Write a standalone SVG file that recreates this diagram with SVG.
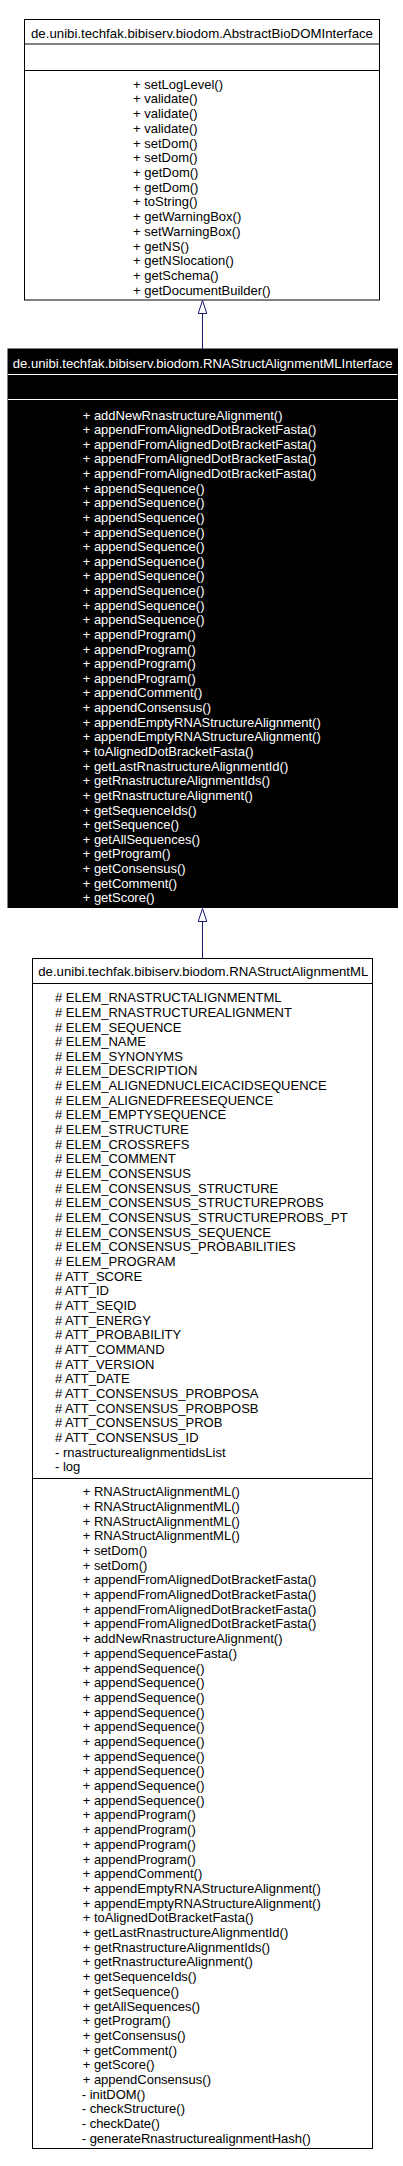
<svg xmlns="http://www.w3.org/2000/svg" width="403" height="2166" viewBox="0 0 403 2166">
<style>
text{font-family:"Liberation Sans",Arial,sans-serif;font-size:13px}
.w{fill:#ffffff}
.k{fill:#000000}
.box{fill:#ffffff;stroke:#000000;stroke-width:1}
.boxd{fill:#000000;stroke:#000000;stroke-width:1}
.sep{stroke:#000000;stroke-width:1}
.sepw{stroke:#ffffff;stroke-width:1}
.edge{stroke:#191970;stroke-width:1;fill:none}
.head{stroke:#191970;stroke-width:1;fill:#ffffff}
</style>
<rect width="403" height="2166" fill="#ffffff"/>
<g id="AbstractBioDOMInterface">
<rect class="box" x="24.5" y="19.5" width="355" height="280.5"/>
<line class="sep" x1="24.5" y1="44" x2="379.5" y2="44"/>
<line class="sep" x1="24.5" y1="70.5" x2="379.5" y2="70.5"/>
<text class="k" x="202" y="37.8" text-anchor="middle" textLength="342" lengthAdjust="spacingAndGlyphs">de.unibi.techfak.bibiserv.biodom.AbstractBioDOMInterface</text>
<text class="k" x="133"><tspan x="133" y="88.7">+ setLogLevel()</tspan><tspan x="133" dy="14.71">+ validate()</tspan><tspan x="133" dy="14.71">+ validate()</tspan><tspan x="133" dy="14.71">+ validate()</tspan><tspan x="133" dy="14.71">+ setDom()</tspan><tspan x="133" dy="14.71">+ setDom()</tspan><tspan x="133" dy="14.71">+ getDom()</tspan><tspan x="133" dy="14.71">+ getDom()</tspan><tspan x="133" dy="14.71">+ toString()</tspan><tspan x="133" dy="14.71">+ getWarningBox()</tspan><tspan x="133" dy="14.71">+ setWarningBox()</tspan><tspan x="133" dy="14.71">+ getNS()</tspan><tspan x="133" dy="14.71">+ getNSlocation()</tspan><tspan x="133" dy="14.71">+ getSchema()</tspan><tspan x="133" dy="14.71">+ getDocumentBuilder()</tspan></text>
</g>
<g id="RNAStructAlignmentMLInterface">
<rect class="boxd" x="8" y="349" width="389.5" height="558.5"/>
<line class="sepw" x1="8" y1="374.5" x2="397.5" y2="374.5"/>
<line class="sepw" x1="8" y1="399.5" x2="397.5" y2="399.5"/>
<text class="w" x="202.7" y="367.8" text-anchor="middle" textLength="380" lengthAdjust="spacingAndGlyphs">de.unibi.techfak.bibiserv.biodom.RNAStructAlignmentMLInterface</text>
<text class="w" x="82.7"><tspan x="82.7" y="419.5">+ addNewRnastructureAlignment()</tspan><tspan x="82.7" dy="14.63">+ appendFromAlignedDotBracketFasta()</tspan><tspan x="82.7" dy="14.63">+ appendFromAlignedDotBracketFasta()</tspan><tspan x="82.7" dy="14.63">+ appendFromAlignedDotBracketFasta()</tspan><tspan x="82.7" dy="14.63">+ appendFromAlignedDotBracketFasta()</tspan><tspan x="82.7" dy="14.63">+ appendSequence()</tspan><tspan x="82.7" dy="14.63">+ appendSequence()</tspan><tspan x="82.7" dy="14.63">+ appendSequence()</tspan><tspan x="82.7" dy="14.63">+ appendSequence()</tspan><tspan x="82.7" dy="14.63">+ appendSequence()</tspan><tspan x="82.7" dy="14.63">+ appendSequence()</tspan><tspan x="82.7" dy="14.63">+ appendSequence()</tspan><tspan x="82.7" dy="14.63">+ appendSequence()</tspan><tspan x="82.7" dy="14.63">+ appendSequence()</tspan><tspan x="82.7" dy="14.63">+ appendSequence()</tspan><tspan x="82.7" dy="14.63">+ appendProgram()</tspan><tspan x="82.7" dy="14.63">+ appendProgram()</tspan><tspan x="82.7" dy="14.63">+ appendProgram()</tspan><tspan x="82.7" dy="14.63">+ appendProgram()</tspan><tspan x="82.7" dy="14.63">+ appendComment()</tspan><tspan x="82.7" dy="14.63">+ appendConsensus()</tspan><tspan x="82.7" dy="14.63">+ appendEmptyRNAStructureAlignment()</tspan><tspan x="82.7" dy="14.63">+ appendEmptyRNAStructureAlignment()</tspan><tspan x="82.7" dy="14.63">+ toAlignedDotBracketFasta()</tspan><tspan x="82.7" dy="14.63">+ getLastRnastructureAlignmentId()</tspan><tspan x="82.7" dy="14.63">+ getRnastructureAlignmentIds()</tspan><tspan x="82.7" dy="14.63">+ getRnastructureAlignment()</tspan><tspan x="82.7" dy="14.63">+ getSequenceIds()</tspan><tspan x="82.7" dy="14.63">+ getSequence()</tspan><tspan x="82.7" dy="14.63">+ getAllSequences()</tspan><tspan x="82.7" dy="14.63">+ getProgram()</tspan><tspan x="82.7" dy="14.63">+ getConsensus()</tspan><tspan x="82.7" dy="14.63">+ getComment()</tspan><tspan x="82.7" dy="14.63">+ getScore()</tspan></text>
</g>
<g id="RNAStructAlignmentML">
<rect class="box" x="32.5" y="958.5" width="340" height="1190"/>
<line class="sep" x1="32.5" y1="983.5" x2="372.5" y2="983.5"/>
<line class="sep" x1="32.5" y1="1478.5" x2="372.5" y2="1478.5"/>
<text class="k" x="203.3" y="976.3" text-anchor="middle" textLength="330" lengthAdjust="spacingAndGlyphs">de.unibi.techfak.bibiserv.biodom.RNAStructAlignmentML</text>
<text class="k" x="55"><tspan x="55" y="1002.2"># ELEM_RNASTRUCTALIGNMENTML</tspan><tspan x="55" dy="14.656"># ELEM_RNASTRUCTUREALIGNMENT</tspan><tspan x="55" dy="14.656"># ELEM_SEQUENCE</tspan><tspan x="55" dy="14.656"># ELEM_NAME</tspan><tspan x="55" dy="14.656"># ELEM_SYNONYMS</tspan><tspan x="55" dy="14.656"># ELEM_DESCRIPTION</tspan><tspan x="55" dy="14.656"># ELEM_ALIGNEDNUCLEICACIDSEQUENCE</tspan><tspan x="55" dy="14.656"># ELEM_ALIGNEDFREESEQUENCE</tspan><tspan x="55" dy="14.656"># ELEM_EMPTYSEQUENCE</tspan><tspan x="55" dy="14.656"># ELEM_STRUCTURE</tspan><tspan x="55" dy="14.656"># ELEM_CROSSREFS</tspan><tspan x="55" dy="14.656"># ELEM_COMMENT</tspan><tspan x="55" dy="14.656"># ELEM_CONSENSUS</tspan><tspan x="55" dy="14.656"># ELEM_CONSENSUS_STRUCTURE</tspan><tspan x="55" dy="14.656"># ELEM_CONSENSUS_STRUCTUREPROBS</tspan><tspan x="55" dy="14.656"># ELEM_CONSENSUS_STRUCTUREPROBS_PT</tspan><tspan x="55" dy="14.656"># ELEM_CONSENSUS_SEQUENCE</tspan><tspan x="55" dy="14.656"># ELEM_CONSENSUS_PROBABILITIES</tspan><tspan x="55" dy="14.656"># ELEM_PROGRAM</tspan><tspan x="55" dy="14.656"># ATT_SCORE</tspan><tspan x="55" dy="14.656"># ATT_ID</tspan><tspan x="55" dy="14.656"># ATT_SEQID</tspan><tspan x="55" dy="14.656"># ATT_ENERGY</tspan><tspan x="55" dy="14.656"># ATT_PROBABILITY</tspan><tspan x="55" dy="14.656"># ATT_COMMAND</tspan><tspan x="55" dy="14.656"># ATT_VERSION</tspan><tspan x="55" dy="14.656"># ATT_DATE</tspan><tspan x="55" dy="14.656"># ATT_CONSENSUS_PROBPOSA</tspan><tspan x="55" dy="14.656"># ATT_CONSENSUS_PROBPOSB</tspan><tspan x="55" dy="14.656"># ATT_CONSENSUS_PROB</tspan><tspan x="55" dy="14.656"># ATT_CONSENSUS_ID</tspan><tspan x="55" dy="14.656">- rnastructurealignmentidsList</tspan><tspan x="55" dy="14.656">- log</tspan></text>
<text class="k" x="82.7"><tspan x="82.7" y="1496.2">+ RNAStructAlignmentML()</tspan><tspan x="82.7" dy="14.695">+ RNAStructAlignmentML()</tspan><tspan x="82.7" dy="14.695">+ RNAStructAlignmentML()</tspan><tspan x="82.7" dy="14.695">+ RNAStructAlignmentML()</tspan><tspan x="82.7" dy="14.695">+ setDom()</tspan><tspan x="82.7" dy="14.695">+ setDom()</tspan><tspan x="82.7" dy="14.695">+ appendFromAlignedDotBracketFasta()</tspan><tspan x="82.7" dy="14.695">+ appendFromAlignedDotBracketFasta()</tspan><tspan x="82.7" dy="14.695">+ appendFromAlignedDotBracketFasta()</tspan><tspan x="82.7" dy="14.695">+ appendFromAlignedDotBracketFasta()</tspan><tspan x="82.7" dy="14.695">+ addNewRnastructureAlignment()</tspan><tspan x="82.7" dy="14.695">+ appendSequenceFasta()</tspan><tspan x="82.7" dy="14.695">+ appendSequence()</tspan><tspan x="82.7" dy="14.695">+ appendSequence()</tspan><tspan x="82.7" dy="14.695">+ appendSequence()</tspan><tspan x="82.7" dy="14.695">+ appendSequence()</tspan><tspan x="82.7" dy="14.695">+ appendSequence()</tspan><tspan x="82.7" dy="14.695">+ appendSequence()</tspan><tspan x="82.7" dy="14.695">+ appendSequence()</tspan><tspan x="82.7" dy="14.695">+ appendSequence()</tspan><tspan x="82.7" dy="14.695">+ appendSequence()</tspan><tspan x="82.7" dy="14.695">+ appendSequence()</tspan><tspan x="82.7" dy="14.695">+ appendProgram()</tspan><tspan x="82.7" dy="14.695">+ appendProgram()</tspan><tspan x="82.7" dy="14.695">+ appendProgram()</tspan><tspan x="82.7" dy="14.695">+ appendProgram()</tspan><tspan x="82.7" dy="14.695">+ appendComment()</tspan><tspan x="82.7" dy="14.695">+ appendEmptyRNAStructureAlignment()</tspan><tspan x="82.7" dy="14.695">+ appendEmptyRNAStructureAlignment()</tspan><tspan x="82.7" dy="14.695">+ toAlignedDotBracketFasta()</tspan><tspan x="82.7" dy="14.695">+ getLastRnastructureAlignmentId()</tspan><tspan x="82.7" dy="14.695">+ getRnastructureAlignmentIds()</tspan><tspan x="82.7" dy="14.695">+ getRnastructureAlignment()</tspan><tspan x="82.7" dy="14.695">+ getSequenceIds()</tspan><tspan x="82.7" dy="14.695">+ getSequence()</tspan><tspan x="82.7" dy="14.695">+ getAllSequences()</tspan><tspan x="82.7" dy="14.695">+ getProgram()</tspan><tspan x="82.7" dy="14.695">+ getConsensus()</tspan><tspan x="82.7" dy="14.695">+ getComment()</tspan><tspan x="82.7" dy="14.695">+ getScore()</tspan><tspan x="82.7" dy="14.695">+ appendConsensus()</tspan><tspan x="81.7" dy="14.695">- initDOM()</tspan><tspan x="81.7" dy="14.695">- checkStructure()</tspan><tspan x="81.7" dy="14.695">- checkDate()</tspan><tspan x="81.7" dy="14.695">- generateRnastructurealignmentHash()</tspan></text>
</g>
<g id="connectors">
<line class="edge" x1="202.5" y1="313.5" x2="202.5" y2="349"/>
<polygon class="head" points="202.5,300.5 198.2,313.5 206.8,313.5"/>
<line class="edge" x1="202.5" y1="921.5" x2="202.5" y2="958.5"/>
<polygon class="head" points="202.5,908.5 198.2,921.5 206.8,921.5"/>
</g>
</svg>
